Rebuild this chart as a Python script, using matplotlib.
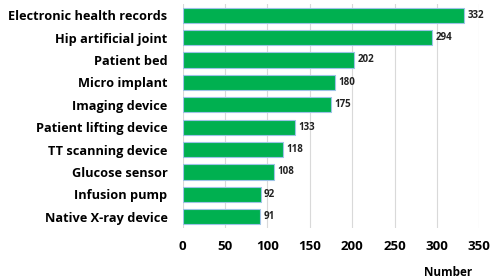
import matplotlib.pyplot as plt

categories = ['Electronic health records', 'Hip artificial joint', 'Patient bed',
              'Micro implant', 'Imaging device', 'Patient lifting device',
              'TT scanning device', 'Glucose sensor', 'Infusion pump',
              'Native X-ray device']
values = [332, 294, 202, 180, 175, 133, 118, 108, 92, 91]
xticks = [0, 50, 100, 150, 200, 250, 300, 350]

plt.rcParams['font.family'] = ['Open Sans', 'DejaVu Sans']

fig = plt.figure(figsize=(4.9, 2.8), dpi=100)
ax = fig.add_axes([0.373, 0.186, 0.605, 0.8])

ypos = list(range(len(categories)))
ax.barh(ypos, values, height=0.68, color='#00B050', edgecolor='#9DC3E6', linewidth=0.8, zorder=3)
ax.set_ylim(len(categories) - 0.5, -0.5)
ax.set_xlim(0, 350)

for y, v in zip(ypos, values):
    ax.text(v + 4, y, str(v), va='center', ha='left', fontsize=7, fontweight='bold', color='#222222')

ax.set_yticks(ypos)
ax.set_yticklabels(categories, fontsize=9.2, fontweight='bold')
ax.set_xticks(xticks)
ax.set_xticklabels([str(t) for t in xticks], fontsize=9.5, fontweight='bold')
ax.tick_params(length=0)
ax.tick_params(axis='y', pad=11)
ax.tick_params(axis='x', pad=9)
ax.grid(axis='x', color='#D9D9D9', linewidth=0.8, zorder=0)
for s in ax.spines.values():
    s.set_visible(False)

fig.text(448 / 490, 1 - 273 / 280, 'Number', ha='center', va='center', fontsize=8.5, fontweight='bold')

fig.savefig('out.png', dpi=100)
